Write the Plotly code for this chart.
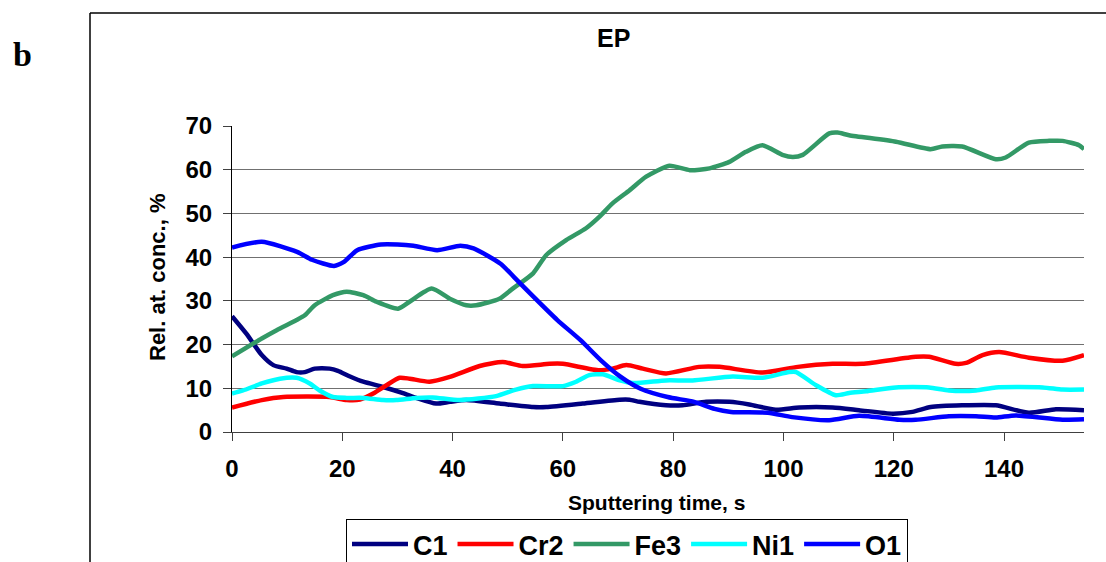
import plotly.graph_objects as go

# ---------------- data ----------------
c1_t = [0, 2.6, 5.4, 7.5, 9.9, 11.7, 13.2, 15, 17.7, 19.2, 21.4, 23.8, 27.4, 31, 33.4, 37, 39.5, 42.5,
        48.5, 54.6, 57, 63.6, 70.3, 72.1, 73.9, 78.7, 81.7, 86, 90.2, 93.8, 98.6, 102.9, 108.9, 113.7,
        119.8, 123.4, 126.7, 132.4, 138.5, 144.5, 149.4, 154.5]
c1_v = [26.5, 22.5, 17.6, 15.3, 14.5, 13.7, 13.7, 14.5, 14.5, 14.0, 12.7, 11.5, 10.3, 8.9, 7.8, 6.5, 6.9, 7.3,
        6.5, 5.7, 5.7, 6.5, 7.4, 7.4, 6.9, 6.1, 6.1, 6.9, 6.9, 6.3, 5.1, 5.6, 5.6, 5.0,
        4.2, 4.6, 5.7, 6.1, 6.1, 4.4, 5.2, 5.0]

cr2_t = [0, 5.4, 9.3, 17.7, 20.8, 23.2, 25.6, 28, 30.4, 32.2, 35.8, 39.5, 44.9, 49.1, 52.7, 57.6, 60,
         66.6, 69, 71.5, 74.5, 78.7, 84.7, 88.4, 96.2, 102.6, 108.9, 114.3, 124, 126.4, 131.2, 133.1,
         136.1, 139.1, 144.5, 150.6, 154.5]
cr2_v = [5.6, 7.3, 8.0, 8.0, 7.3, 7.4, 8.8, 10.7, 12.4, 12.2, 11.5, 12.6, 15.1, 16.0, 15.1, 15.6, 15.6,
         14.1, 14.5, 15.3, 14.5, 13.4, 14.9, 14.9, 13.6, 14.9, 15.6, 15.6, 17.2, 17.2, 15.6, 15.8,
         17.6, 18.3, 17.0, 16.3, 17.6]

fe3_t = [0, 5.4, 8.1, 11.7, 13.2, 15, 18.3, 20.8, 23.8, 26.2, 30.1, 32.2, 36.2, 39.5, 42.5, 44.3, 48.5,
         50.9, 54.6, 57, 60.6, 64.2, 66.6, 69, 72.1, 75.1, 79.3, 83, 86.6, 90.2, 93.2, 96.2, 99.8,
         101.7, 103.5, 108.3, 109.8, 111.9, 120.4, 126.7, 128.8, 132.4, 138.5, 140.3, 144.5, 148.2,
         150.6, 153.6, 154.5]
fe3_v = [17.3, 21.4, 23.3, 25.6, 26.7, 29.0, 31.3, 32.1, 31.3, 29.8, 28.2, 29.8, 32.8, 30.5, 29.0, 29.0, 30.5,
         32.8, 36.3, 40.5, 43.9, 46.6, 49.2, 52.3, 55.3, 58.4, 60.9, 59.9, 60.3, 61.8, 64.1, 65.6, 63.4,
         62.9, 63.4, 68.3, 68.5, 67.9, 66.4, 64.7, 65.3, 65.3, 62.4, 62.8, 66.2, 66.6,
         66.6, 65.6, 64.7]

ni1_t = [0, 2, 5.4, 8.7, 11.7, 14.1, 15.9, 18.3, 20.8, 23.8, 27.4, 29.8, 33.4, 36.4, 41.3, 47.9, 51.5,
         54.6, 60, 62.4, 64.8, 67.2, 70.3, 72.7, 78.7, 83.5, 90.8, 96.2, 101, 102.3, 105.9, 109.5,
         111.9, 115, 120.4, 126.4, 130, 134.9, 138.5, 147, 150.6, 154.5]
ni1_v = [8.8, 9.5, 11.1, 12.2, 12.4, 11.1, 9.5, 8.0, 7.8, 7.8, 7.3, 7.3, 7.8, 7.9, 7.3, 8.2, 9.7,
         10.5, 10.5, 11.5, 13.0, 13.2, 11.8, 11.2, 11.8, 11.8, 12.7, 12.4, 13.7, 13.7, 10.7, 8.4,
         8.9, 9.3, 10.2, 10.2, 9.5, 9.5, 10.2, 10.2, 9.7, 9.7]

o1_t = [0, 5.4, 11.8, 14.5, 18.5, 20.3, 22.7, 27, 30, 32.9, 37.2, 41.4, 43.8, 48.7, 51.1, 54.7, 59,
        63.2, 66.9, 70.5, 74.1, 79, 83.8, 87.5, 90.5, 97.2, 101.6, 108.3, 113.7, 121, 124, 130,
        134.9, 138.5, 142.1, 150.6, 154.5]
o1_v = [42.2, 43.5, 41.2, 39.4, 38.0, 38.9, 41.6, 42.9, 42.9, 42.6, 41.6, 42.6, 42.0, 38.5, 35.5, 30.9, 25.6,
        21.0, 16.4, 12.6, 9.9, 8.0, 6.9, 5.3, 4.6, 4.4, 3.4, 2.7, 3.7, 2.8, 2.8, 3.6,
        3.6, 3.3, 3.8, 2.8, 2.9]

series_names = ["C1", "Cr2", "Fe3", "Ni1", "O1"]
series_t = [c1_t, cr2_t, fe3_t, ni1_t, o1_t]
series_v = [c1_v, cr2_v, fe3_v, ni1_v, o1_v]
series_colors = ["#000080", "#FF0000", "#339966", "#00FFFF", "#0000FF"]

x_ticks = [0, 20, 40, 60, 80, 100, 120, 140]
y_ticks = [0, 10, 20, 30, 40, 50, 60, 70]

# ---------------- figure ----------------
W, H = 1106, 562
L, R, T, B = 232, 22, 126, 130
pw, ph = W - L - R, H - T - B


def px(xp):
    return (xp - L) / pw


def py(yp):
    return (H - B - yp) / ph


FONT = "Arial, 'Liberation Sans', sans-serif"

fig = go.Figure()
for name, t, v, c in zip(series_names, series_t, series_v, series_colors):
    fig.add_trace(go.Scatter(x=t, y=v, name=name, mode="lines",
                             line=dict(color=c, width=4.5, shape="spline", smoothing=0.6)))

fig.update_layout(
    width=W, height=H, autosize=False,
    margin=dict(l=L, r=R, t=T, b=B, pad=0),
    paper_bgcolor="white", plot_bgcolor="white",
    font=dict(family=FONT, color="black"),
    showlegend=True,
    legend=dict(orientation="h", xref="container", yref="container",
                x=346 / W, y=(H - 519) / H, xanchor="left", yanchor="top",
                bordercolor="black", borderwidth=1, bgcolor="white",
                font=dict(size=27, family=FONT, weight="bold", color="black"),
                itemwidth=56, tracegroupgap=0),
    xaxis=dict(range=[0, 154.5], tickvals=x_ticks, showgrid=False, zeroline=False,
               showline=True, linecolor="#404040", linewidth=1,
               ticks="outside", ticklen=8, tickcolor="#404040", tickwidth=1,
               ticklabelstandoff=7,
               tickfont=dict(size=24, family=FONT, weight="bold", color="black")),
    yaxis=dict(range=[0, 70], tickvals=y_ticks, showgrid=True, gridcolor="#707070", gridwidth=1.2,
               zeroline=False, showline=True, linecolor="black", linewidth=1,
               ticks="outside", ticklen=8, tickcolor="#404040", tickwidth=1,
               ticklabelstandoff=6,
               tickfont=dict(size=24, family=FONT, weight="bold", color="black")),
    annotations=[
        dict(text="EP", x=px(613), y=py(38), xref="paper", yref="paper", showarrow=False,
             xanchor="center", yanchor="middle", font=dict(size=25, family=FONT, weight="bold")),
        dict(text="Rel. at. conc., %", x=px(157), y=py(277), xref="paper", yref="paper",
             showarrow=False, textangle=-90, xanchor="center", yanchor="middle",
             font=dict(size=22, family=FONT, weight="bold")),
        dict(text="Sputtering time, s", x=px(656), y=py(502), xref="paper", yref="paper",
             showarrow=False, xanchor="center", yanchor="middle",
             font=dict(size=21, family=FONT, weight="bold")),
        dict(text="b", x=px(22), y=py(55), xref="paper", yref="paper", showarrow=False,
             xanchor="center", yanchor="middle",
             font=dict(size=34, family="'Liberation Serif', 'Times New Roman', serif", weight="bold")),
    ],
    shapes=[
        dict(type="line", xref="paper", yref="paper", x0=px(90), x1=px(1120), y0=py(13), y1=py(13),
             line=dict(color="black", width=1.5)),
        dict(type="line", xref="paper", yref="paper", x0=px(90), x1=px(90), y0=py(13), y1=py(580),
             line=dict(color="black", width=1.5)),
    ],
)

fig.write_html("out.html")
